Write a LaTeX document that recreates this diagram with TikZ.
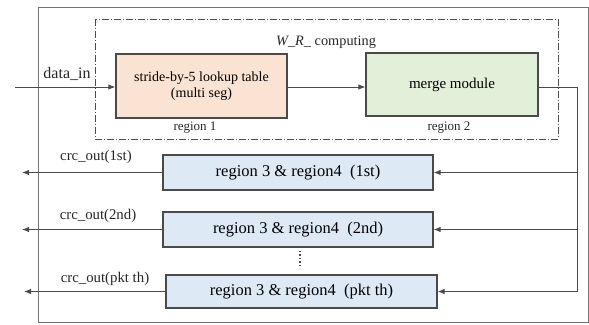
\documentclass[tikz,border=0pt]{standalone}
\usepackage{fontspec}
\setmainfont{Liberation Serif}
\usetikzlibrary{arrows.meta}
\definecolor{lc}{HTML}{4A4A4A}
\definecolor{peach}{HTML}{FBE3D3}
\definecolor{mint}{HTML}{E2EFD9}
\definecolor{sky}{HTML}{DDEAF6}
\tikzset{
  blk/.style={draw=lc, line width=1.3pt, inner sep=0pt, align=center, font=\fontsize{14}{16}\selectfont},
  lbl/.style={inner sep=0pt, font=\fontsize{13}{15}\selectfont, text=black!85},
  conn/.style={draw=lc, line width=0.9pt, -{Latex[length=7pt,width=5.5pt]}},
  wire/.style={draw=lc, line width=0.9pt},
}
\begin{document}
\begin{tikzpicture}[x=1pt,y=-1pt]
\useasboundingbox (0,0) rectangle (589,324);
% outer frame
\draw[draw=black!55, line width=0.8pt] (38,7) rectangle (588,322);
% dash-dot box
\draw[draw=black!70, line width=0.8pt, dash pattern=on 7pt off 2pt on 1pt off 2pt] (95,19) rectangle (558,139);
\node[lbl, font=\fontsize{14.3}{16}\selectfont] (title) at (326,42) {\textit{W\_R\_} computing};
% top blocks
\node[blk, fill=peach, minimum width=171pt, minimum height=64pt] (r1) at (201.5,86) {stride-by-5 lookup table\\(multi seg)};
\node[blk, fill=mint, minimum width=172pt, minimum height=63pt, font=\fontsize{15}{17}\selectfont] (mg) at (452,84.5) {merge module};
\node[lbl] (l1) at (195,128) {region 1};
\node[lbl] (l2) at (449,128) {region 2};
% bottom blocks
\tikzset{bot/.style={blk, fill=sky, font=\fontsize{16.5}{18}\selectfont}}
\node[bot, minimum width=270pt, minimum height=35pt] (b1) at (298,172.5) {region 3 \& region4\ \ (1st)};
\node[bot, minimum width=270pt, minimum height=35pt] (b2) at (298,229.5) {region 3 \& region4\ \ (2nd)};
\node[bot, minimum width=271pt, minimum height=33pt] (b3) at (301.5,291.5) {region 3 \& region4\ \ (pkt th)};
% input
\coordinate (din) at (15,87);
\node[lbl, font=\fontsize{16}{18}\selectfont] (dl) at (67,74) {data\_in};
\draw[conn] (din) -- (din -| r1.west);
\draw[conn] (r1.east |- din) -- (mg.west |- din);
% feedback bus
\coordinate (rc) at (577,87);
\coordinate (rb) at (577,291.5);
\draw[wire] (mg.east |- rc) -- (rc) -- (rb);
\draw[conn] (rc |- b1.east) -- (b1.east);
\draw[conn] (rc |- b2.east) -- (b2.east);
\draw[conn] (rb) -- (b3.east);
% outputs
\coordinate (o1) at (22,172.5);
\coordinate (o2) at (22,229.5);
\coordinate (o3) at (24,291.5);
\draw[conn] (b1.west) -- (o1);
\draw[conn] (b2.west) -- (o2);
\draw[conn] (b3.west) -- (o3);
\tikzset{crc/.style={lbl, font=\fontsize{14.8}{16}\selectfont}}
\node[crc] (c1) at (96,157) {crc\_out(1st)};
\node[crc] (c2) at (98,216) {crc\_out(2nd)};
\node[crc] (c3) at (105,279) {crc\_out(pkt th)};
% dots
\coordinate (d1) at (300,251);
\coordinate (d2) at (300,268);
\draw[draw=lc, line width=1.4pt, dotted] (d1) -- (d2);
\end{tikzpicture}
\end{document}
